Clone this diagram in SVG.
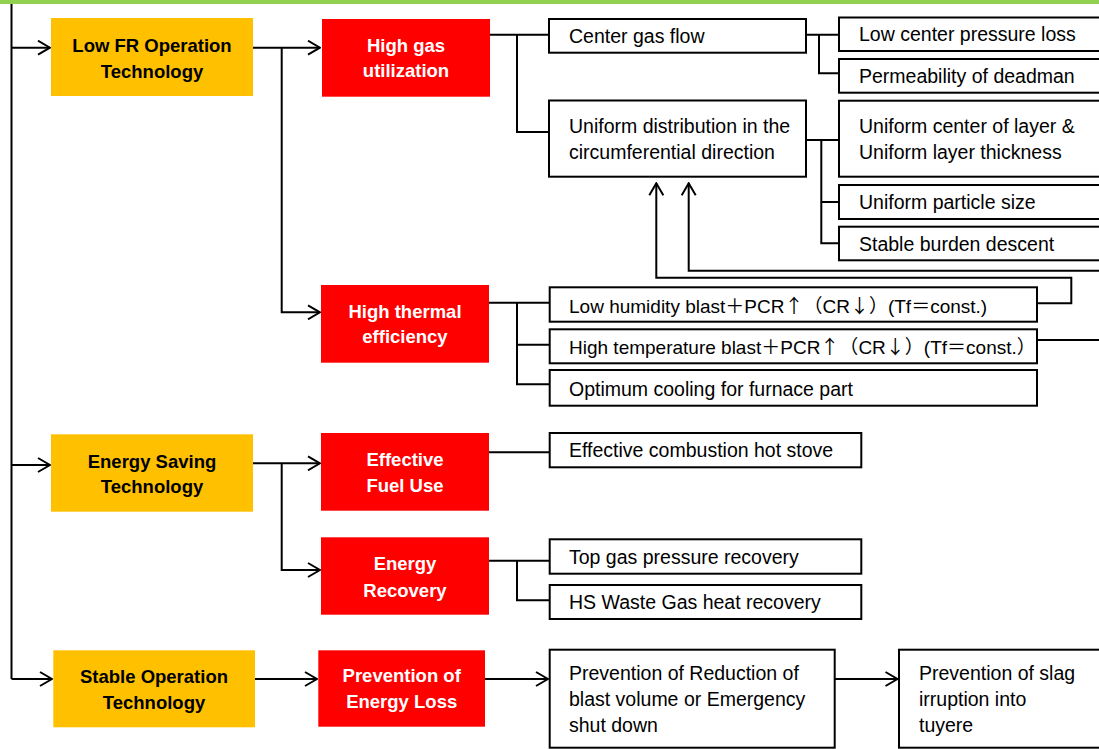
<svg xmlns="http://www.w3.org/2000/svg" width="1099" height="749" viewBox="0 0 1099 749">
<defs>
<marker id="arr" viewBox="0 0 14 16" refX="13" refY="8" markerWidth="14" markerHeight="16" markerUnits="userSpaceOnUse" orient="auto">
<path d="M1,1 L13,8 L1,15" fill="none" stroke="#000" stroke-width="2"/>
</marker>
<style>
.bg{fill:#fff}
.cat rect{fill:#ffc000}
.cat text{font-family:"Liberation Sans",Arial,sans-serif;font-weight:bold;font-size:18.5px;fill:#000;text-anchor:middle}
.goal rect{fill:#ff0000}
.goal text{font-family:"Liberation Sans",Arial,sans-serif;font-weight:bold;font-size:18.5px;fill:#fff;text-anchor:middle}
.item rect{fill:#fff;stroke:#000;stroke-width:2}
.item text{font-family:"Liberation Sans","Noto Sans CJK JP",Arial,sans-serif;font-size:19.5px;fill:#000}
.item text.long{font-size:19px}
.cjk{font-family:"Noto Sans CJK JP","Noto Sans CJK SC",sans-serif}
.conn path{fill:none;stroke:#000;stroke-width:2}
.conn path.a{marker-end:url(#arr)}
</style>
</defs>
<rect class="bg" x="0" y="0" width="1099" height="749"/>
<rect x="0" y="0" width="1099" height="4" fill="#92d050"/>

<g class="conn" id="connectors">
<path d="M11.5,4 V679"/>
<path class="a" d="M11.5,47.7 H50"/>
<path class="a" d="M11.5,465 H50"/>
<path class="a" d="M11.5,679 H52"/>
<path class="a" d="M253,47.7 H320"/>
<path class="a" d="M281.7,47.7 V312.3 H320"/>
<path class="a" d="M253,463.3 H320"/>
<path class="a" d="M281.7,463.3 V570 H320"/>
<path class="a" d="M255,679 H317"/>
<path d="M490,34.7 H549"/>
<path d="M517,34.7 V132 H549"/>
<path d="M806,34.7 H839"/>
<path d="M819,34.7 V73.3 H839"/>
<path d="M806,140 H839"/>
<path d="M821.3,140 V243.3 H839"/>
<path d="M821.3,202 H839"/>
<path d="M489,302.7 H549.7"/>
<path d="M517,302.7 V384.3 H549.7"/>
<path d="M517,344.7 H549.7"/>
<path class="a" d="M1037,303.3 H1071.3 V277.7 H656.3 V183.3"/>
<path class="a" d="M1110,270.7 H688.7 V183.3"/>
<path d="M1037,340 H1110"/>
<path d="M489,452.3 H549.7"/>
<path d="M489,560.7 H549.7"/>
<path d="M517,560.7 V600.3 H549.7"/>
<path class="a" d="M485,679 H548"/>
<path class="a" d="M834.7,679 H897.5"/>
</g>

<g id="low-fr" class="cat"><rect x="51" y="18" width="202" height="78"/><text x="152" y="52">Low FR Operation</text><text x="152" y="77.5">Technology</text></g>
<g id="energy-saving" class="cat"><rect x="51" y="434.3" width="202" height="77.4"/><text x="152" y="467.7">Energy Saving</text><text x="152" y="492.5">Technology</text></g>
<g id="stable-op" class="cat"><rect x="53.3" y="650.3" width="201.7" height="77"/><text x="154" y="683.3">Stable Operation</text><text x="154" y="708.5">Technology</text></g>

<g id="high-gas" class="goal"><rect x="322" y="19" width="168" height="77.7"/><text x="406" y="52.3">High gas</text><text x="406" y="77.3">utilization</text></g>
<g id="high-thermal" class="goal"><rect x="321" y="285" width="168" height="77.7"/><text x="405" y="318.3">High thermal</text><text x="405" y="343.3">efficiency</text></g>
<g id="effective-fuel" class="goal"><rect x="321" y="433" width="168" height="77.7"/><text x="405" y="465.7">Effective</text><text x="405" y="492.3">Fuel Use</text></g>
<g id="energy-recovery" class="goal"><rect x="321" y="537.3" width="168" height="77.4"/><text x="405" y="570">Energy</text><text x="405" y="596.7">Recovery</text></g>
<g id="prevention-loss" class="goal"><rect x="318.3" y="650.3" width="166.7" height="76.4"/><text x="401.7" y="681.7">Prevention of</text><text x="401.7" y="707.7">Energy Loss</text></g>

<g id="center-gas" class="item"><rect x="549" y="19" width="257" height="33.7"/><text x="569" y="43">Center gas flow</text></g>
<g id="uniform-dist" class="item"><rect x="549" y="100.5" width="257" height="76.2"/><text x="569" y="133.3">Uniform distribution in the</text><text x="569" y="159.3">circumferential direction</text></g>
<g id="low-center" class="item"><rect x="839" y="17.5" width="280" height="33.5"/><text x="859" y="41.3">Low center pressure loss</text></g>
<g id="permeability" class="item"><rect x="839" y="59" width="280" height="33.7"/><text x="859" y="83">Permeability of deadman</text></g>
<g id="uniform-center" class="item"><rect x="839" y="100.7" width="280" height="76"/><text x="859" y="133.3">Uniform center of layer &amp;</text><text x="859" y="158.5">Uniform layer thickness</text></g>
<g id="uniform-particle" class="item"><rect x="839" y="185" width="280" height="34"/><text x="859" y="209.3">Uniform particle size</text></g>
<g id="stable-burden" class="item"><rect x="839" y="226.7" width="280" height="33.6"/><text x="859" y="251">Stable burden descent</text></g>
<g id="low-humidity" class="item"><rect x="549.7" y="287.3" width="487.3" height="34.4"/><text class="long" x="569" y="312.5">Low humidity blast<tspan class="cjk">＋</tspan>PCR<tspan class="cjk">↑（</tspan>CR<tspan class="cjk">↓）</tspan>(Tf<tspan class="cjk">＝</tspan>const.)</text></g>
<g id="high-temp" class="item"><rect x="549.7" y="329.3" width="487.3" height="34"/><text class="long" x="569" y="354">High temperature blast<tspan class="cjk">＋</tspan>PCR<tspan class="cjk">↑（</tspan>CR<tspan class="cjk">↓）</tspan>(Tf<tspan class="cjk">＝</tspan>const.<tspan class="cjk">）</tspan></text></g>
<g id="optimum-cooling" class="item"><rect x="549.7" y="370" width="487.3" height="35.7"/><text x="569" y="395.7">Optimum cooling for furnace part</text></g>
<g id="combustion" class="item"><rect x="549.7" y="433" width="311.6" height="34.3"/><text x="569" y="457">Effective combustion hot stove</text></g>
<g id="top-gas" class="item"><rect x="549.7" y="539.3" width="311.6" height="34.4"/><text x="569" y="564.3">Top gas pressure recovery</text></g>
<g id="hs-waste" class="item"><rect x="549.7" y="585" width="311.6" height="34"/><text x="569" y="608.5">HS Waste Gas heat recovery</text></g>
<g id="prevention-reduction" class="item"><rect x="549.7" y="649.7" width="285" height="98"/><text x="569" y="680">Prevention of Reduction of</text><text x="569" y="706">blast volume or Emergency</text><text x="569" y="732">shut down</text></g>
<g id="prevention-slag" class="item"><rect x="899" y="649.7" width="220" height="98"/><text x="919" y="680">Prevention of slag</text><text x="919" y="706">irruption into</text><text x="919" y="732">tuyere</text></g>
</svg>
